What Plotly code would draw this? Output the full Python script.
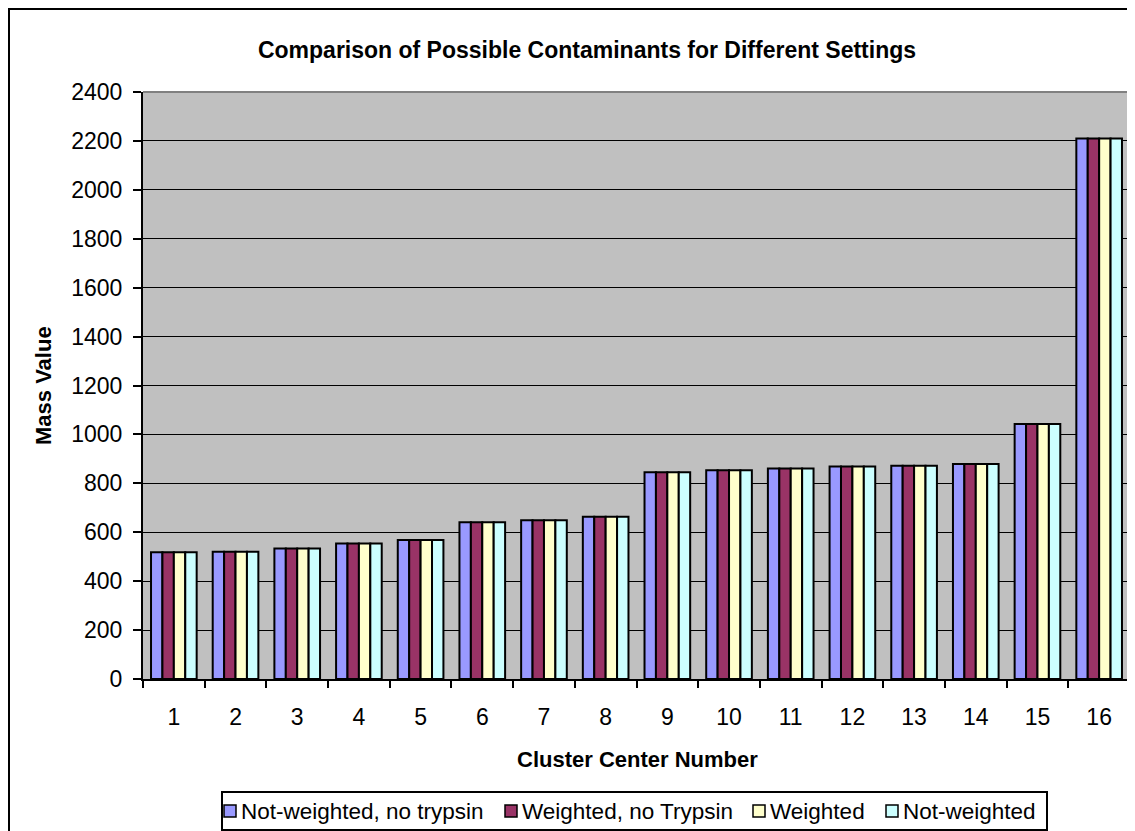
import plotly.graph_objects as go

categories = [str(i) for i in range(1, 17)]
series_names = ["Not-weighted, no trypsin", "Weighted, no Trypsin", "Weighted", "Not-weighted"]
not_weighted_no_trypsin = [518, 520, 534, 554, 568, 641, 649, 663, 845, 854, 861, 869, 872, 879, 1043, 2210]
weighted_no_trypsin = [518, 520, 534, 554, 568, 641, 649, 663, 845, 854, 861, 869, 872, 879, 1043, 2210]
weighted = [518, 520, 534, 554, 568, 641, 649, 663, 845, 854, 861, 869, 872, 879, 1043, 2210]
not_weighted = [518, 520, 534, 554, 568, 641, 649, 663, 845, 854, 861, 869, 872, 879, 1043, 2210]
colors = ["#9999FF", "#993366", "#FFFFCC", "#CCFFFF"]
y_ticks = list(range(0, 2401, 200))

S = 8  # page body margin: screenshot coords = figure coords + S
W, H = 1135 - S, 831 - S
L, R, T, B = 143 - S, 1130 - S, 92 - S, 679 - S  # plot area in figure pixels


def px_x(p):
    """screenshot x pixel -> paper coordinate"""
    return (p - S - L) / (R - L)


def px_y(p):
    """screenshot y pixel -> paper coordinate"""
    return (B - (p - S)) / (B - T)


FONT = "Liberation Sans, Arial, sans-serif"

fig = go.Figure()
all_series = [not_weighted_no_trypsin, weighted_no_trypsin, weighted, not_weighted]
for name, vals, col in zip(series_names, all_series, colors):
    fig.add_trace(go.Bar(x=categories, y=vals, name=name, showlegend=False,
                         marker=dict(color=col, line=dict(color="black", width=2))))

fig.update_layout(
    width=W, height=H,
    margin=dict(l=L, r=W - R, t=T, b=H - B, autoexpand=False),
    paper_bgcolor="white",
    plot_bgcolor="#C0C0C0",
    barmode="group",
    bargap=0.26,
    bargroupgap=0,
    font=dict(family=FONT, size=22, color="black"),
    title=dict(text="<b>Comparison of Possible Contaminants for Different Settings</b>",
               x=(587 - S) / W, xanchor="center", xref="container",
               y=1 - (50 - S) / H, yanchor="middle", yref="container",
               font=dict(family=FONT, size=23, color="black")),
    showlegend=False,
)

fig.update_xaxes(
    type="category",
    tickson="boundaries",
    ticks="outside", ticklen=7, tickwidth=2, tickcolor="black",
    showline=True, linecolor="black", linewidth=2,
    showgrid=False, zeroline=False,
    ticklabelstandoff=16,
    tickfont=dict(family=FONT, size=23, color="black"),
)
fig.update_yaxes(
    range=[0, 2400],
    tickvals=y_ticks,
    ticktext=[str(v) for v in y_ticks],
    ticks="outside", ticklen=8, tickwidth=2, tickcolor="black",
    showline=True, linecolor="black", linewidth=2,
    showgrid=True, gridcolor="black", gridwidth=1.3,
    zeroline=False,
    ticklabelstandoff=6,
    tickfont=dict(family=FONT, size=23, color="black"),
)

# plot-area top and right gray border
fig.add_shape(type="line", xref="paper", yref="paper", x0=0, x1=1, y0=1, y1=1,
              line=dict(color="#808080", width=2))
fig.add_shape(type="line", xref="paper", yref="paper", x0=1, x1=1, y0=0, y1=1,
              line=dict(color="#808080", width=2))
# outer chart frame (right and bottom edges lie outside the picture)
fig.add_shape(type="rect", xref="paper", yref="paper",
              x0=px_x(9), x1=px_x(1150), y0=px_y(9), y1=px_y(850),
              line=dict(color="black", width=2), fillcolor="rgba(0,0,0,0)")

# axis titles
fig.add_annotation(text="<b>Mass Value</b>", textangle=-90, xref="paper", yref="paper",
                   x=px_x(44), y=px_y(386), xanchor="center", yanchor="middle",
                   showarrow=False, font=dict(family=FONT, size=22, color="black"))
fig.add_annotation(text="<b>Cluster Center Number</b>", xref="paper", yref="paper",
                   x=px_x(637), y=px_y(759), xanchor="center", yanchor="middle",
                   showarrow=False, font=dict(family=FONT, size=22, color="black"))

# legend box (Excel-style, bottom)
fig.add_shape(type="rect", xref="paper", yref="paper",
              x0=px_x(222), x1=px_x(1047), y0=px_y(792), y1=px_y(830),
              line=dict(color="black", width=2), fillcolor="white")
legend_text_x = [241, 522, 770, 903]
legend_y = 811
for name, col, tx in zip(series_names, colors, legend_text_x):
    cx = tx - 11
    fig.add_shape(type="rect", xref="paper", yref="paper",
                  x0=px_x(cx - 6), x1=px_x(cx + 6), y0=px_y(legend_y - 6), y1=px_y(legend_y + 6),
                  line=dict(color="black", width=1.5), fillcolor=col)
    fig.add_annotation(text=name, xref="paper", yref="paper",
                       x=px_x(tx), y=px_y(legend_y), xanchor="left", yanchor="middle",
                       showarrow=False, xshift=-2,
                       font=dict(family=FONT, size=22.5, color="black"))

fig.write_html("out.html")
